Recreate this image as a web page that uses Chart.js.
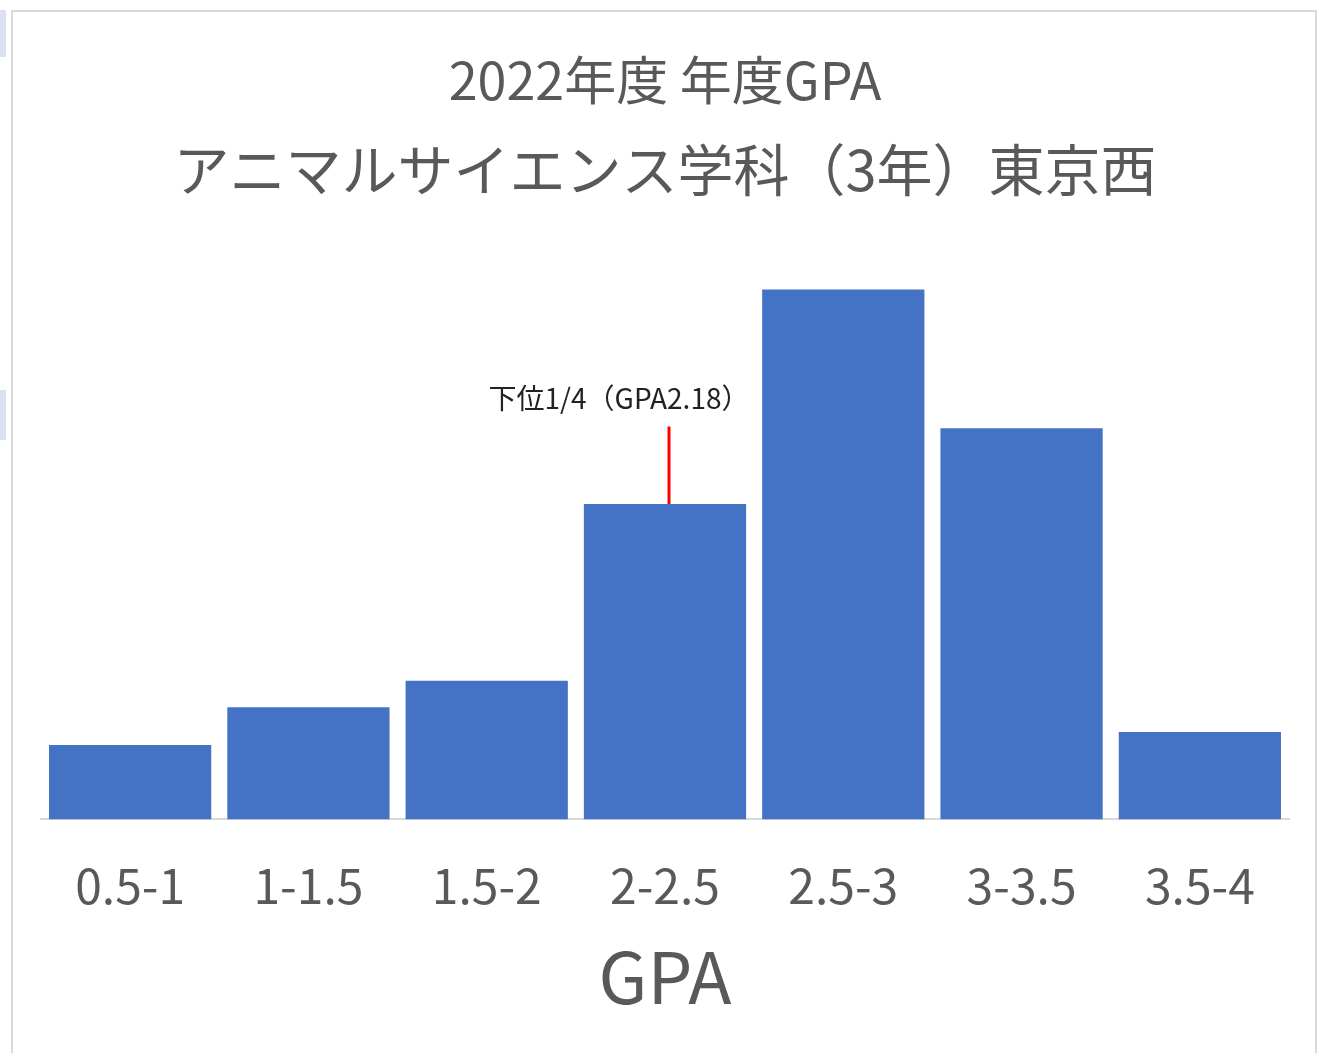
<!DOCTYPE html>
<html lang="ja">
<head>
<meta charset="utf-8">
<title>2022年度 年度GPA</title>
<script src="https://cdn.jsdelivr.net/npm/chart.js@4.4.0/dist/chart.umd.min.js"></script>
<style>
    html, body { margin: 0; padding: 0; background: #fff; }
    body { width: 1317px; height: 1053px; position: relative; overflow: hidden; }
    #marco {
        position: absolute; left: 11px; top: 10px; width: 1302px; height: 1050px;
        border: 2px solid #d9d9d9; border-bottom: none; background: #fff;
    }
    .asa { position: absolute; left: 0; width: 6px; background: #dae1f2; }
    canvas { display: block; }
</style>
</head>
<body>
<div class="asa" style="top:10px;height:47px"></div>
<div class="asa" style="top:390px;height:50px"></div>
<div id="marco"><canvas id="graficoGPA" width="1302" height="1043"></canvas></div>

<script>
// ==================== DATOS ====================
const categorias = ['0.5-1', '1-1.5', '1.5-2', '2-2.5', '2.5-3', '3-3.5', '3.5-4'];
const porcentajes = [4.5, 6.8, 8.4, 19.1, 32.1, 23.7, 5.3];
const tituloPrincipal = '2022年度 年度GPA';
const subtitulo = 'アニマルサイエンス学科（3年）東京西';
const marcaTexto = '下位1/4（GPA2.18）';
const marcaIndice = 3;      // barra 2-2.5
const marcaTope = 23.8;     // extremo superior de la línea roja

const gris = '#595959';
const fuente = '"Noto Sans CJK JP", "Noto Sans", sans-serif';

// ==================== MARCA DEL CUARTIL ====================
const marcaCuartil = {
    id: 'marcaCuartil',
    afterDatasetsDraw(chart) {
        const ctx = chart.ctx;
        const x = chart.scales.x.getPixelForValue(marcaIndice) + 4;
        const yBase = chart.scales.y.getPixelForValue(porcentajes[marcaIndice]);
        const yTope = chart.scales.y.getPixelForValue(marcaTope);
        ctx.save();
        ctx.strokeStyle = '#ff0000';
        ctx.lineWidth = 3;
        ctx.beginPath();
        ctx.moveTo(x, yBase);
        ctx.lineTo(x, yTope);
        ctx.stroke();
        ctx.fillStyle = '#222';
        ctx.font = '28px ' + fuente;
        ctx.textAlign = 'center';
        ctx.textBaseline = 'middle';
        ctx.fillText(marcaTexto, x - 50, yTope - 28);
        ctx.restore();
    }
};

// ==================== CREAR GRÁFICO ====================
new Chart(document.getElementById('graficoGPA'), {
    type: 'bar',
    data: {
        labels: categorias,
        datasets: [{
            data: porcentajes,
            backgroundColor: '#4472c4',
            borderWidth: 0,
            barPercentage: 0.91,
            categoryPercentage: 1.0
        }]
    },
    options: {
        responsive: false,
        animation: false,
        layout: { padding: { left: 28, right: 26, top: 0, bottom: 42 } },
        plugins: {
            legend: { display: false },
            tooltip: { enabled: false },
            title: {
                display: true,
                text: tituloPrincipal,
                color: gris,
                font: { family: fuente, size: 52, weight: 'normal', lineHeight: 1.2 },
                padding: { top: 37, bottom: 0 }
            },
            subtitle: {
                display: true,
                text: subtitulo,
                color: gris,
                font: { family: fuente, size: 56, weight: 'normal', lineHeight: 1.2 },
                padding: { top: 25, bottom: 38 }
            }
        },
        scales: {
            y: {
                display: false,
                min: 0,
                max: 35
            },
            x: {
                grid: { display: false, drawTicks: false },
                border: { display: true, color: '#d9d9d9', width: 2 },
                ticks: {
                    color: gris,
                    padding: 38,
                    font: { family: fuente, size: 48 }
                },
                title: {
                    display: true,
                    text: 'GPA',
                    color: gris,
                    font: { family: fuente, size: 71, lineHeight: 1.0 },
                    padding: { top: -11, bottom: 0 }
                }
            }
        }
    },
    plugins: [marcaCuartil]
});
</script>
</body>
</html>
